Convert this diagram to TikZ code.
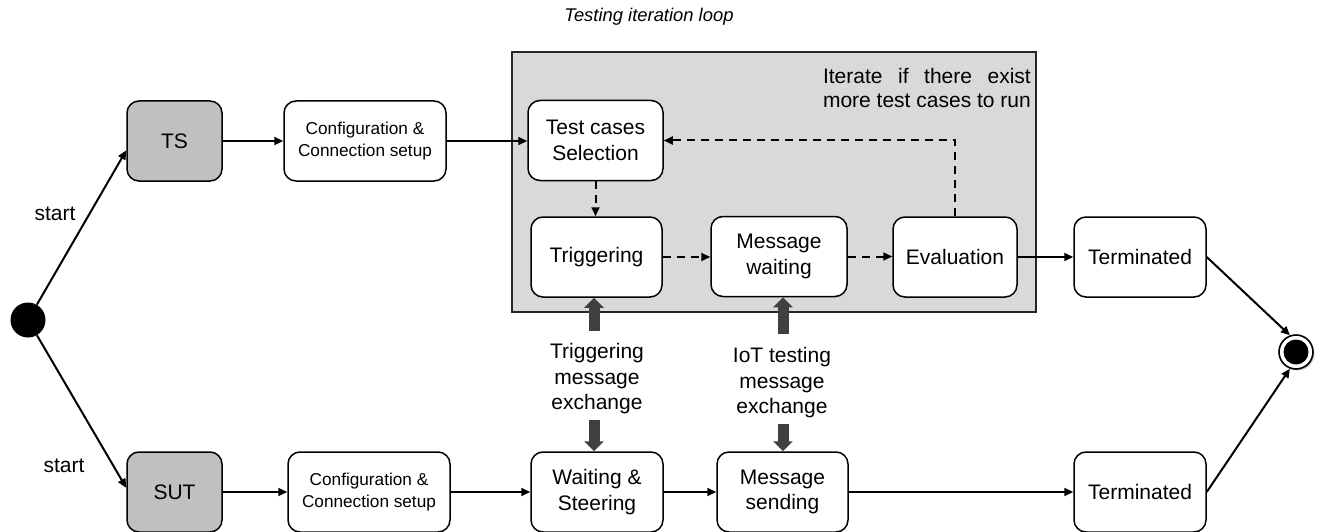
\documentclass[tikz,border=0pt]{standalone}
\usepackage{fontspec}
\setmainfont{Liberation Sans}
\usetikzlibrary{arrows.meta,shadows,calc}
\definecolor{actorgray}{HTML}{C0C0C0}
\definecolor{loopfill}{HTML}{D9D9D9}
\definecolor{fatgray}{HTML}{404040}
\newlength\iterw
\begin{document}
\begin{tikzpicture}[x=1pt,y=-1pt,
  every node/.style={font=\fontsize{21}{25.5}\selectfont},
  state/.style={draw=black, line width=1.5pt, rounded corners=12pt, fill=white,
    minimum height=80pt, align=center, inner sep=2pt},
  actor/.style={state, fill=actorgray},
  small/.style={font=\fontsize{17.2}{21.5}\selectfont},
  conn/.style={line width=2pt, -{Triangle[length=9pt,width=8pt]}},
  dconn/.style={conn, dash pattern=on 8pt off 6pt},
  fat/.style={draw=fatgray, line width=11pt, -{Triangle[length=10pt,width=19pt]}},
]
\useasboundingbox (0,0) rectangle (1322,532);

% iteration loop frame and its captions
\node[draw=black!85, line width=1.5pt, fill=loopfill, minimum width=524pt,
  minimum height=260pt, inner sep=0] (loop) at (774,182) {};
\node[font=\itshape\fontsize{18.4}{22}\selectfont] (title) at (649,17) {Testing iteration loop};
\node[anchor=base east, inner sep=0] (iter1) at (1031,84)
  {\settowidth{\iterw}{more test cases to run}\makebox[\iterw][s]{Iterate if there exist}};
\node[anchor=base east, inner sep=0] (iter2) at (1031,108) {more test cases to run};

% initial and final states
\node[circle, fill=black, minimum size=35pt, inner sep=0] (start) at (28,320) {};
\node[circle, draw=black, line width=1.6pt, fill=white, minimum size=34pt, inner sep=0,
  drop shadow={shadow xshift=1.5pt, shadow yshift=-1.5pt, fill=black!45}] (end) at (1296,352) {};
\node[circle, fill=black, minimum size=25pt, inner sep=0] (endc) at (end) {};

% test system row
\node[actor, minimum width=95pt] (ts) at (174.5,141) {TS};
\node[state, small, minimum width=162pt] (cfgts) at (365,141) {Configuration \&\\Connection setup};
\node[state, minimum width=135pt] (sel) at (595.5,140.5) {Test cases\\Selection};
\node[state, minimum width=131pt] (trig) at (596.5,257) {Triggering};
\node[state, minimum width=136pt] (mwait) at (779,256.5) {Message\\waiting};
\node[state, minimum width=124pt] (eval) at (955,257) {Evaluation};
\node[state, minimum width=132pt] (term1) at (1140,257) {Terminated};

% system under test row
\node[actor, minimum width=95pt] (sut) at (174.5,492) {SUT};
\node[state, small, minimum width=162pt] (cfgsut) at (369,492) {Configuration \&\\Connection setup};
\node[state, minimum width=132pt] (wait) at (597,492) {Waiting \&\\Steering};
\node[state, minimum width=131pt] (msend) at (782.5,492) {Message\\sending};
\node[state, minimum width=132pt] (term2) at (1140,492) {Terminated};

% labels
\node (st1) at (55,214) {start};
\node (st2) at (64,466) {start};
\node[align=center] (trigx) at (597,379) {Triggering\\message\\exchange};
\node[align=center] (iotx) at (782,383) {IoT testing\\message\\exchange};

% transitions
\draw[conn] (start) -- (ts.191);
\draw[conn] (start) -- (sut.175);
\draw[conn] (ts) -- (cfgts);
\draw[conn] (cfgts.east) -- (cfgts.east -| sel.west);
\draw[dconn] (sel.south) -- (sel.south |- trig.north);
\draw[dconn] (trig.east) -- (trig.east -| mwait.west);
\draw[dconn] (mwait.east) -- (mwait.east -| eval.west);
\draw[dconn] (eval.north) |- (sel.east);
\draw[conn] (eval) -- (term1);
\draw[conn] (term1.east) -- (end.110);
\draw[conn] (sut) -- (cfgsut);
\draw[conn] (cfgsut) -- (wait);
\draw[conn] (wait) -- (msend);
\draw[conn] (msend) -- (term2);
\draw[conn] (term2.east) -- (end.250);

% message exchange arrows
\coordinate (ta) at (594,331);
\coordinate (tb) at (594,420);
\coordinate (tc) at (783,334);
\coordinate (td) at (783,424);
\draw[fat] (ta) -- (ta |- trig.south);
\draw[fat] (tb) -- (tb |- wait.north);
\draw[fat] (tc) -- (tc |- mwait.south);
\draw[fat] (td) -- (td |- msend.north);
\end{tikzpicture}
\end{document}
